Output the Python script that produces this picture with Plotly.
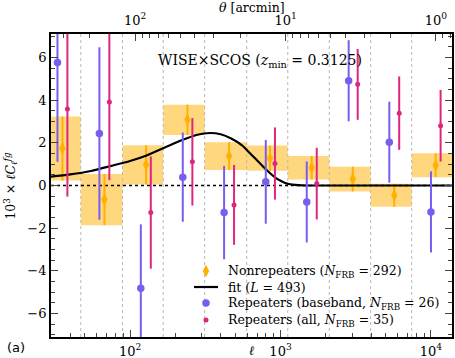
import numpy as np
import plotly.graph_objects as go

# bin edges in multipole
bin_edges = [25, 47, 89, 166, 313, 596, 1117, 2109, 3972, 7446, 14000]

# nonrepeaters
ell_nr = [35.5, 67.5, 127.7, 240.5, 455, 851, 1611, 3020, 5703, 10740]
cl_nr = [1.73, -0.66, 0.97, 3.08, 1.38, 1.28, 0.83, 0.30, -0.46, 0.95]
err_nr = [1.5, 1.2, 0.92, 0.71, 0.65, 0.59, 0.55, 0.58, 0.54, 0.56]

# repeaters, baseband
ell_bb = [32.9, 62.5, 117.8, 224, 421.6, 798, 1494, 2838, 5286, 10000]
cl_bb = [5.77, 2.44, -4.82, 0.39, -1.27, 0.17, -0.77, 4.91, 2.03, -1.24]
err_bb = [4.66, 4.04, 3.0, 2.09, 2.19, 1.96, 1.9, 1.9, 1.9, 1.9]

# repeaters, all
ell_all = [38.3, 72.8, 137.3, 259.4, 491, 918, 1741, 3258, 6150, 11590]
cl_all = [3.58, 3.91, -1.27, 1.11, -0.91, 1.03, 0.09, 4.74, 3.39, 2.80]
err_all = [4.1, 3.66, 2.63, 2.05, 1.87, 1.69, 1.68, 1.66, 1.72, 1.68]

# fit curve
ell_fit = [29.8, 40, 55, 75, 100, 130, 170, 220, 280, 340, 400, 470, 552, 620, 700,
           789, 860, 919, 1000, 1071, 1160, 1250, 1400, 1600, 3000, 14000]
cl_fit = [0.42, 0.52, 0.68, 0.92, 1.15, 1.42, 1.78, 2.12, 2.38, 2.46, 2.40, 2.20, 1.89,
          1.55, 1.17, 0.80, 0.55, 0.38, 0.22, 0.12, 0.06, 0.03, 0.01, 0.0, 0.0, 0.0]

legend_labels = ['Nonrepeaters (<i>N</i><sub>FRB</sub> = 292)',
                 'fit (<i>L</i> = 493)',
                 'Repeaters (baseband, <i>N</i><sub>FRB</sub> = 26)',
                 'Repeaters (all, <i>N</i><sub>FRB</sub> = 35)']

ell_min, ell_max = 29.8, 13800
y_lim = 7.1
arcmin_per_ell = 10800.0

gold = '#FFB000'
purple = '#785EF0'
magenta = '#DC267F'
font = 'DejaVu Serif'

# legend layout (paper fractions of the plot area)
leg_x_mark = 0.3865
leg_x_line = [0.3566, 0.4165]
leg_x_text = 0.436
leg_rows = [0.2178, 0.165, 0.1122, 0.0561]

fig = go.Figure()

# shaded bands
bx, by = [], []
for i in range(len(cl_nr)):
    lo, hi = cl_nr[i] - err_nr[i], cl_nr[i] + err_nr[i]
    e0, e1 = bin_edges[i], bin_edges[i + 1]
    bx += [e0, e1, e1, e0, e0, None]
    by += [lo, lo, hi, hi, lo, None]
fig.add_trace(go.Scatter(x=bx, y=by, mode='lines', fill='toself',
                         fillcolor='rgba(255,176,0,0.5)', line=dict(width=0),
                         showlegend=False, hoverinfo='skip'))

# bin edge lines
vx, vy = [], []
for e in bin_edges[1:-1]:
    vx += [e, e, None]
    vy += [-y_lim, y_lim, None]
fig.add_trace(go.Scatter(x=vx, y=vy, mode='lines',
                         line=dict(color='#b8b8b8', width=1, dash='dot'),
                         showlegend=False, hoverinfo='skip'))

# zero line
fig.add_trace(go.Scatter(x=[ell_min, ell_max], y=[0, 0], mode='lines',
                         line=dict(color='black', width=1.6, dash='dot'),
                         showlegend=False, hoverinfo='skip'))

fig.add_trace(go.Scatter(
    x=ell_nr, y=cl_nr, mode='markers', showlegend=False,
    marker=dict(symbol='diamond-tall', size=9, color=gold),
    error_y=dict(type='data', array=err_nr, color=gold, thickness=2, width=0)))

fig.add_trace(go.Scatter(
    x=ell_fit, y=cl_fit, mode='lines', line_shape='spline', showlegend=False,
    line=dict(color='black', width=2.2, smoothing=0.8)))

fig.add_trace(go.Scatter(
    x=ell_bb, y=cl_bb, mode='markers', showlegend=False,
    marker=dict(symbol='circle', size=7.5, color=purple),
    error_y=dict(type='data', array=err_bb, color=purple, thickness=2, width=0)))

fig.add_trace(go.Scatter(
    x=ell_all, y=cl_all, mode='markers', showlegend=False,
    marker=dict(symbol='circle', size=5, color=magenta),
    error_y=dict(type='data', array=err_all, color=magenta, thickness=2, width=0)))

# dummy trace for theta axis
fig.add_trace(go.Scatter(x=[100], y=[None], xaxis='x2', showlegend=False,
                         hoverinfo='skip'))

# legend keys on an overlay axis spanning the plot area
fig.add_trace(go.Scatter(x=[leg_x_mark], y=[leg_rows[0]], xaxis='x3', yaxis='y3',
                         mode='markers', showlegend=False, hoverinfo='skip',
                         marker=dict(symbol='diamond-tall', size=9, color=gold)))
fig.add_trace(go.Scatter(x=leg_x_line, y=[leg_rows[1]] * 2, xaxis='x3', yaxis='y3',
                         mode='lines', showlegend=False, hoverinfo='skip',
                         line=dict(color='black', width=2.2)))
fig.add_trace(go.Scatter(x=[leg_x_mark], y=[leg_rows[2]], xaxis='x3', yaxis='y3',
                         mode='markers', showlegend=False, hoverinfo='skip',
                         marker=dict(symbol='circle', size=7.5, color=purple)))
fig.add_trace(go.Scatter(x=[leg_x_mark], y=[leg_rows[3]], xaxis='x3', yaxis='y3',
                         mode='markers', showlegend=False, hoverinfo='skip',
                         marker=dict(symbol='circle', size=5, color=magenta)))

minor_ell = [m * 10 ** k for k in range(1, 5) for m in range(2, 10)]
minor_theta = [m * 10 ** k for k in range(-1, 3) for m in range(2, 10)]

def note(text, x, y, size, **kw):
    return dict(text=text, x=x, y=y, xref='paper', yref='paper', showarrow=False,
                xanchor=kw.pop('xanchor', 'center'), yanchor='middle',
                font=dict(size=size, **kw.pop('font', {})), **kw)

annotations = [
    note('WISE×SCOS (<i>z</i><sub>min</sub> = 0.3125)', 0.521, 0.911, 14),
    note('<i>θ</i> [arcmin]', 0.502, 1.088, 12.5),
    note('<i>ℓ</i>', 0.501, -0.044, 13),
    note('(a)', -0.087, -0.036, 13, font=dict(family='DejaVu Sans')),
    note('10<sup>3</sup> × <i>ℓC</i><sub><i>ℓ</i></sub><sup><i>fg</i></sup>',
         -0.102, 0.5, 12.5, textangle=-90),
]
for lab, yy in zip(legend_labels, leg_rows):
    annotations.append(note(lab, leg_x_text, yy, 12.5, xanchor='left'))

axis_common = dict(showgrid=False, zeroline=False, showline=True, linecolor='black',
                   linewidth=1.8, ticks='inside', ticklen=7, tickwidth=1.2,
                   automargin=False)

fig.update_layout(
    width=455, height=358,
    margin=dict(l=51, r=3, t=34, b=21),
    plot_bgcolor='white', paper_bgcolor='white',
    font=dict(family=font, size=13, color='black'),
    xaxis=dict(type='log', range=[np.log10(ell_min), np.log10(ell_max)],
               tickvals=[100, 1000, 10000], ticklabelstandoff=1,
               ticktext=['10<sup>2</sup>', '10<sup>3</sup>', '10<sup>4</sup>'],
               minor=dict(tickvals=minor_ell, ticks='inside', ticklen=4,
                          tickwidth=1, showgrid=False), **axis_common),
    xaxis2=dict(type='log', overlaying='x', side='top', anchor='y',
                range=[np.log10(arcmin_per_ell / ell_min), np.log10(arcmin_per_ell / ell_max)],
                tickvals=[1, 10, 100], ticklabelstandoff=2,
                ticktext=['10<sup>0</sup>', '10<sup>1</sup>', '10<sup>2</sup>'],
                minor=dict(tickvals=minor_theta, ticks='inside', ticklen=4,
                           tickwidth=1, showgrid=False), **axis_common),
    yaxis=dict(range=[-y_lim, y_lim], mirror='ticks', dtick=2,
               minor=dict(dtick=0.5, ticks='inside', ticklen=4, tickwidth=1,
                          showgrid=False), **axis_common),
    xaxis3=dict(range=[0, 1], overlaying='x', anchor='y3', visible=False,
                fixedrange=True),
    yaxis3=dict(range=[0, 1], overlaying='y', anchor='x3', visible=False,
                fixedrange=True),
    showlegend=False,
    annotations=annotations,
)

# drop the default page margin so the figure sits at the window corner
fig.write_html('out.html', config={'displayModeBar': False},
               post_script="document.body.style.margin='0';")
